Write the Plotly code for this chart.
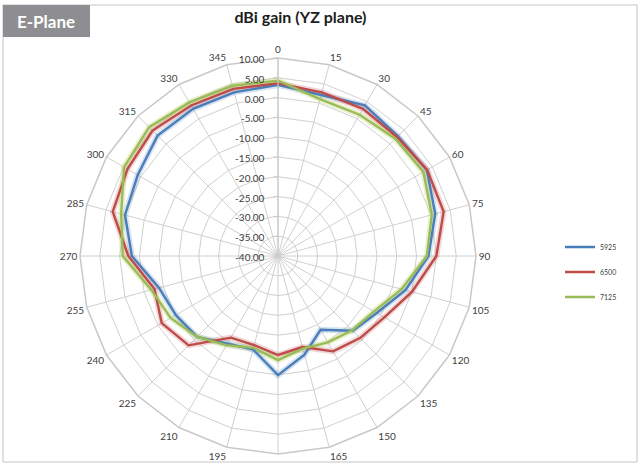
import plotly.graph_objects as go

angles = [str(a) for a in range(0, 360, 15)]
# the 180 label falls outside the reference picture, so it is left blank
angle_labels = ["" if a == "180" else a for a in angles]

gain_5925 = [3.2, 2.1, 3.9, 2.8, 3.4, 1.1, -2.0, -6.7, -11.2, -13.3, -18.5, -14.2,
             -9.9, -15.6, -14.4, -11.1, -10.2, -8.9, -3.1, 0.0, 0.9, 3.0, 2.9, 2.8]
gain_6500 = [3.6, 2.8, 2.9, 2.5, 3.5, 3.3, 0.0, -5.0, -9.0, -10.7, -12.2, -16.2,
             -15.0, -16.7, -16.2, -8.1, -6.1, -7.7, -2.2, 3.2, 3.9, 4.8, 3.9, 3.7]
gain_7125 = [4.3, 1.0, 1.2, 1.9, 2.4, 0.2, -2.4, -7.7, -12.0, -13.5, -14.8, -15.8,
             -13.7, -16.0, -14.0, -11.1, -8.7, -6.9, -0.8, 1.0, 4.9, 6.0, 4.8, 4.5]

series = [("5925", gain_5925, "#4A7EBB", "rgba(74,126,187,0.22)"),
          ("6500", gain_6500, "#BE4B48", "rgba(190,75,72,0.22)"),
          ("7125", gain_7125, "#9BBB59", "rgba(180,210,90,0.30)")]

radial_ticks = list(range(-40, 15, 5))
radial_text = [f"{v:.2f}" for v in radial_ticks]

fig = go.Figure()
# soft glow under each line
for name, vals, color, glow in series:
    fig.add_trace(go.Scatterpolar(
        r=vals + vals[:1], theta=angles + angles[:1], name=name,
        legendgroup=name, showlegend=False, hoverinfo="skip",
        mode="lines", line=dict(color=glow, width=6),
    ))
for name, vals, color, glow in series:
    fig.add_trace(go.Scatterpolar(
        r=vals + vals[:1], theta=angles + angles[:1], name=name,
        legendgroup=name,
        mode="lines", line=dict(color=color, width=2.4),
    ))

fig.update_layout(
    width=642, height=465,
    margin=dict(l=0, r=0, t=0, b=0),
    paper_bgcolor="white",
    font=dict(family="Lato, Open Sans, sans-serif", color="#404040", size=10),
    title=dict(text="<b>dBi gain (YZ plane)</b>", x=0.468, xanchor="center",
               y=0.962, yanchor="middle",
               font=dict(size=16, color="#202020", family="Lato, Open Sans, sans-serif")),
    polar=dict(
        domain=dict(x=[80/642, 476/642], y=[1 - 454/465, 1 - 58/465]),
        bgcolor="white",
        gridshape="linear",
        angularaxis=dict(
            type="category", categoryarray=angles,
            tickvals=angles, ticktext=angle_labels,
            direction="clockwise", rotation=90,
            showline=True, linecolor="#C8C8C8", linewidth=1.5,
            gridcolor="#D0D0D0", gridwidth=1.2,
            ticks="", tickfont=dict(size=10, color="#404040"),
        ),
        radialaxis=dict(
            range=[-40, 10], tickvals=radial_ticks, ticktext=radial_text,
            angle=90, side="counterclockwise",
            showline=True, linecolor="#C8C8C8", linewidth=1.2,
            gridcolor="#D0D0D0", gridwidth=1.2,
            ticks="outside", ticklen=4, tickcolor="#C8C8C8",
            tickfont=dict(size=10, color="#404040"),
        ),
    ),
    legend=dict(x=560/642, xanchor="left", y=1 - 272/465, yanchor="middle",
                font=dict(size=7, color="#404040"), itemwidth=30,
                bgcolor="rgba(0,0,0,0)", tracegroupgap=6),
    shapes=[
        dict(type="rect", xref="paper", yref="paper", x0=3/642, x1=637/642,
             y0=1 - 462/465, y1=1 - 5/465, line=dict(color="#D9D9D9", width=1.5),
             layer="below"),
        dict(type="rect", xref="paper", yref="paper", x0=3/642, x1=90/642,
             y0=1 - 37/465, y1=1 - 5/465, fillcolor="#8E8E92",
             line=dict(width=0)),
    ],
    annotations=[
        dict(text="<b>E-Plane</b>", xref="paper", yref="paper", x=46.5/642,
             y=1 - 21/465, xanchor="center", yanchor="middle", showarrow=False,
             font=dict(size=17, color="white", family="Lato, Open Sans, sans-serif")),
    ],
    showlegend=True,
)

fig.write_html("out.html", config={"displayModeBar": False},
               post_script="document.body.style.margin='0px';document.body.style.overflow='hidden';")
